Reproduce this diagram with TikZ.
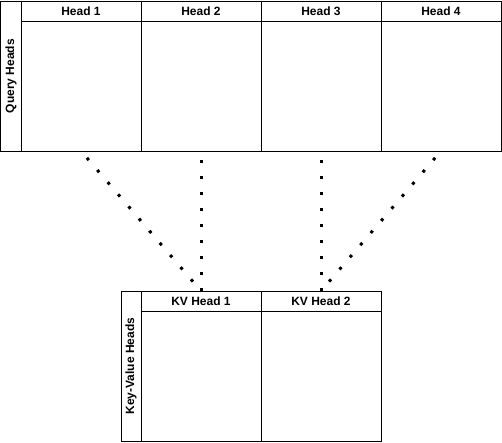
\documentclass[tikz,border=0pt]{standalone}
\usepackage{fontspec}
\setmainfont{Liberation Sans}
\begin{document}
\begin{tikzpicture}[x=1pt,y=-1pt,line width=1pt,
  cell/.style={draw=black,minimum width=120pt,minimum height=130pt,inner sep=0pt,outer sep=0pt},
  hdr/.style={draw=black,minimum width=120pt,minimum height=20pt,inner sep=0pt,outer sep=0pt,font=\bfseries\fontsize{12}{14}\selectfont},
  side/.style={draw=black,minimum width=20pt,minimum height=150pt,inner sep=0pt,outer sep=0pt},
  sidelbl/.style={rotate=90,font=\bfseries\fontsize{12}{14}\selectfont},
  link/.style={line width=3pt,dash pattern=on 3pt off 13pt,dash phase=-9pt}]
\useasboundingbox (-1,-1) rectangle (501,441);
% top group
\node[side,anchor=north west] (qside) at (0,0) {};
\node[sidelbl] (qlbl) at (qside.center) {Query Heads};
\foreach \i in {1,...,4}{
  \node[hdr,anchor=north west] (h\i) at ({20+120*(\i-1)},0) {Head \i};
  \node[cell,anchor=north west] (c\i) at ({20+120*(\i-1)},20) {};
}
% bottom group
\node[side,anchor=north west] (kside) at (120,290) {};
\node[sidelbl] (klbl) at (kside.center) {Key-Value Heads};
\foreach \i in {1,2}{
  \node[hdr,anchor=north west] (kh\i) at ({140+120*(\i-1)},290) {KV Head \i};
  \node[cell,anchor=north west] (kc\i) at ({140+120*(\i-1)},310) {};
}
\draw[link] (c1.south) -- (kh1.north);
\draw[link] (c2.south) -- (kh1.north);
\draw[link] (c3.south) -- (kh2.north);
\draw[link] (c4.south) -- (kh2.north);
\end{tikzpicture}
\end{document}
